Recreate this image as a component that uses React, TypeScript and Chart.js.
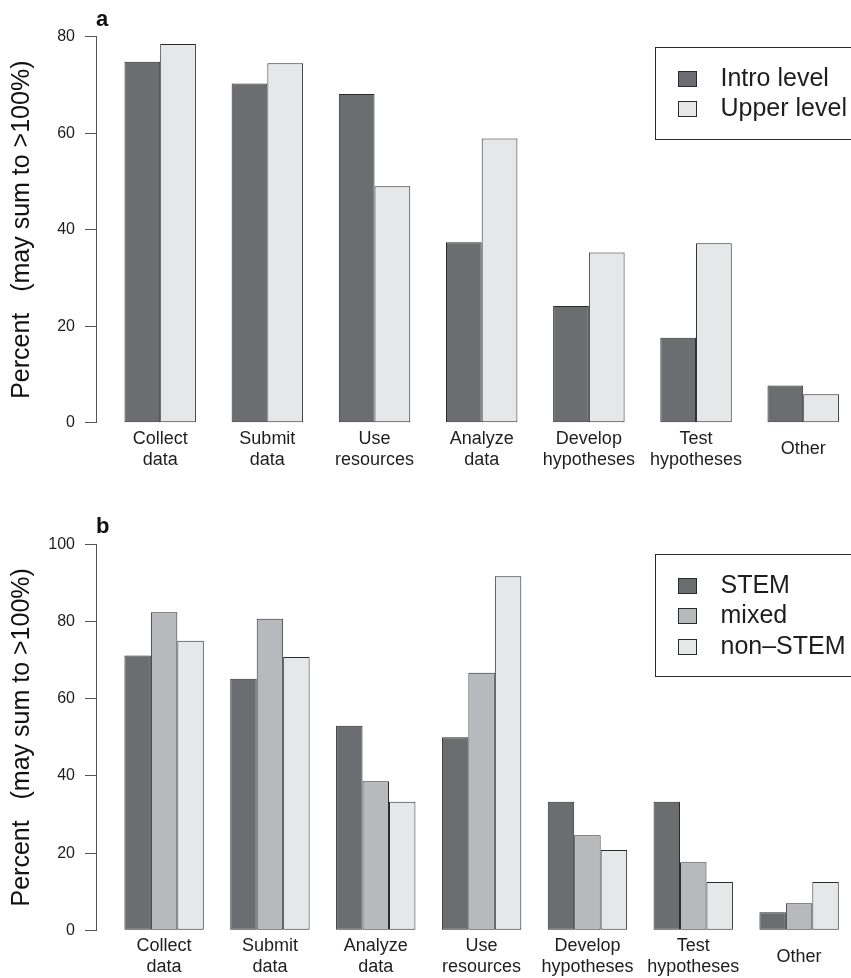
import React, { useEffect, useRef } from "react";
import { Chart, registerables } from "chart.js";

Chart.register(...registerables);

// ---------- Panel a data ----------
const categoriesA: string[][] = [
  ["Collect", "data"],
  ["Submit", "data"],
  ["Use", "resources"],
  ["Analyze", "data"],
  ["Develop", "hypotheses"],
  ["Test", "hypotheses"],
  ["Other"],
];
const introLevel = [74.8, 70.3, 68.1, 37.4, 24.2, 17.6, 7.7];
const upperLevel = [78.5, 74.5, 49.0, 58.9, 35.3, 37.2, 5.9];
const seriesNamesA = ["Intro level", "Upper level"];
const yMaxA = 80;

// ---------- Panel b data ----------
const categoriesB: string[][] = [
  ["Collect", "data"],
  ["Submit", "data"],
  ["Analyze", "data"],
  ["Use", "resources"],
  ["Develop", "hypotheses"],
  ["Test", "hypotheses"],
  ["Other"],
];
const stem = [71.2, 65.2, 53.0, 50.0, 33.3, 33.3, 4.7];
const mixed = [82.4, 80.7, 38.6, 66.7, 24.6, 17.6, 7.0];
const nonStem = [75.0, 70.8, 33.3, 91.7, 20.8, 12.5, 12.5];
const seriesNamesB = ["STEM", "mixed", "non\u2013STEM"];
const yMaxB = 100;

const yTitle = "Percent   (may sum to >100%)";
const yStep = 20;

// ---------- styles ----------
const FONT = '"Liberation Sans", Arial, Helvetica, sans-serif';
const DARK = "#6c6d71";
const MID = "#b8b9bd";
const LIGHT = "#e6e7e9";
const EDGE = "#2a2a2a";
const AXIS = "#555555";
const TEXT = "#1e1e1e";

function annotatePlugin(letter: string, names: string[], colors: string[]) {
  return {
    id: "annotate_" + letter,
    afterDraw(chart: any) {
      const ctx = chart.ctx;
      const ca = chart.chartArea;
      ctx.save();
      // panel letter
      ctx.fillStyle = "#111";
      ctx.font = `bold 22px ${FONT}`;
      ctx.textAlign = "left";
      ctx.textBaseline = "alphabetic";
      ctx.fillText(letter, ca.left, ca.top - 11);
      // legend box
      const step = 30.5;
      const bx = Math.round(ca.right - 196) + 0.5;
      const by = Math.round(ca.top + 10) + 0.5;
      const bh = Math.round((names.length + 1) * step);
      ctx.strokeStyle = EDGE;
      ctx.lineWidth = 1;
      ctx.strokeRect(bx, by, chart.width + 20 - bx, bh);
      names.forEach((name, i) => {
        const cy = by + (i + 1) * step;
        const sx = Math.round(bx + 22) + 0.5;
        const sy = Math.round(cy - 7.5) + 0.5;
        ctx.fillStyle = colors[i];
        ctx.fillRect(sx, sy, 18, 15);
        ctx.strokeStyle = EDGE;
        ctx.strokeRect(sx, sy, 18, 15);
        ctx.fillStyle = TEXT;
        ctx.font = `25px ${FONT}`;
        ctx.textBaseline = "middle";
        ctx.fillText(name, bx + 65, cy + 1);
      });
      ctx.restore();
    },
  };
}

function makeConfig(opts: {
  categories: string[][];
  series: number[][];
  names: string[];
  colors: string[];
  yMax: number;
  xMin: number;
  xMax: number;
  catPct: number;
  padTop: number;
  xAxisHeight: number;
  letter: string;
}) {
  const datasets = opts.series.map((vals, si) => ({
    label: opts.names[si],
    data: vals.map((v, i) => ({ x: i, y: v })),
    backgroundColor: opts.colors[si],
    borderColor: EDGE,
    borderWidth: 1,
    borderSkipped: false,
    categoryPercentage: opts.catPct,
    barPercentage: 1,
  }));
  return {
    type: "bar" as const,
    data: { datasets },
    options: {
      animation: false,
      responsive: false,
      devicePixelRatio: 1,
      layout: { padding: { top: opts.padTop, left: 0, right: 0, bottom: 0 } },
      plugins: {
        legend: { display: false },
        tooltip: { enabled: false },
      },
      scales: {
        x: {
          type: "linear",
          bounds: "data",
          min: opts.xMin,
          max: opts.xMax,
          offset: false,
          grid: { display: false, drawTicks: false },
          border: { display: false },
          afterBuildTicks: (scale: any) => {
            scale.ticks = opts.categories.map((_, i) => ({ value: i }));
          },
          afterFit: (scale: any) => {
            scale.height = opts.xAxisHeight;
          },
          ticks: {
            autoSkip: false,
            maxRotation: 0,
            minRotation: 0,
            crossAlign: "center",
            padding: 16,
            color: TEXT,
            font: { family: FONT, size: 18, lineHeight: 1.17 },
            callback: (value: number) => opts.categories[value] ?? "",
          },
        },
        y: {
          type: "linear",
          min: 0,
          max: opts.yMax,
          afterFit: (scale: any) => {
            scale.width = 96;
          },
          grid: {
            display: true,
            drawOnChartArea: false,
            drawTicks: true,
            tickLength: 11,
            color: AXIS,
            lineWidth: 1,
          },
          border: { display: true, color: AXIS, width: 1 },
          ticks: {
            stepSize: yStep,
            padding: 10,
            color: TEXT,
            font: { family: FONT, size: 16 },
          },
          title: {
            display: true,
            text: yTitle,
            color: "#111",
            font: { family: FONT, size: 25, lineHeight: 1.2 },
            padding: { top: 7.5, bottom: 0 },
          },
        },
      },
    },
    plugins: [annotatePlugin(opts.letter, opts.names, opts.colors)],
  };
}

export default function App() {
  const refA = useRef<HTMLCanvasElement | null>(null);
  const refB = useRef<HTMLCanvasElement | null>(null);

  useEffect(() => {
    const chartA = new Chart(
      refA.current as HTMLCanvasElement,
      makeConfig({
        categories: categoriesA,
        series: [introLevel, upperLevel],
        names: seriesNamesA,
        colors: [DARK, LIGHT],
        yMax: yMaxA,
        xMin: -0.599,
        xMax: 6.446,
        catPct: 2 / 3,
        padTop: 36.7,
        xAxisHeight: 57.3,
        letter: "a",
      }) as any
    );
    const chartB = new Chart(
      refB.current as HTMLCanvasElement,
      makeConfig({
        categories: categoriesB,
        series: [stem, mixed, nonStem],
        names: seriesNamesB,
        colors: [DARK, MID, LIGHT],
        yMax: yMaxB,
        xMin: -0.6435,
        xMax: 6.4905,
        catPct: 3 / 4,
        padTop: 64.3,
        xAxisHeight: 47.7,
        letter: "b",
      }) as any
    );
    return () => {
      chartA.destroy();
      chartB.destroy();
    };
  }, []);

  return (
    <div
      style={{
        position: "absolute",
        left: 0,
        top: 0,
        width: 851,
        height: 978,
        background: "#ffffff",
      }}
    >
      <canvas ref={refA} width={851} height={480} style={{ display: "block" }} />
      <canvas ref={refB} width={851} height={498} style={{ display: "block" }} />
    </div>
  );
}
